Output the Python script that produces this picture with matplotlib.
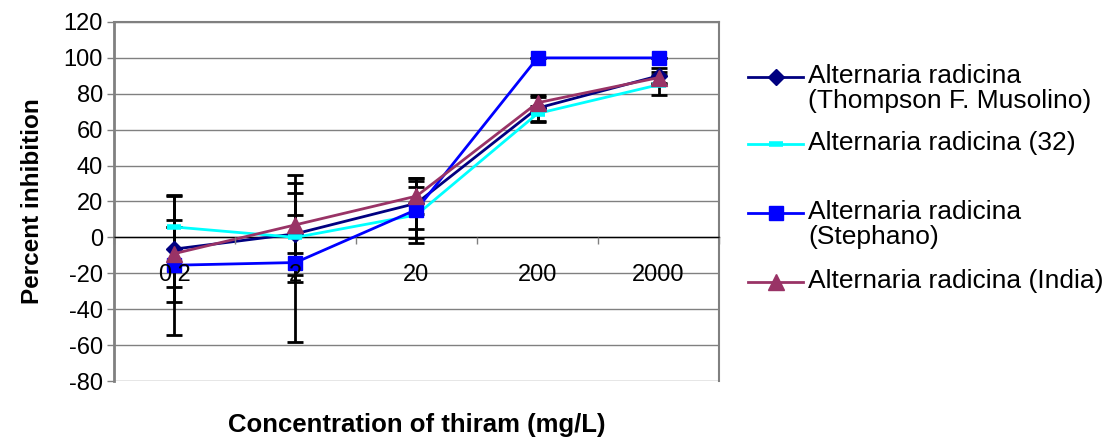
import matplotlib
matplotlib.use("Agg")
import matplotlib.pyplot as plt
from matplotlib.lines import Line2D
import numpy as np

plt.rcParams['font.family'] = ['Liberation Sans', 'DejaVu Sans']
plt.rcParams['axes.unicode_minus'] = False

# concentracoes de thiram (mg/L)
concentracoes = ['0.2', '2', '20', '200', '2000']

# inibicao percentual e desvio de cada isolado
musolino = [-6.5, 2, 19, 72, 90]
erro_musolino = [29.5, 10.5, 14.3, 7.5, 4.5]
isolado_32 = [5.8, 0, 12.5, 69, 85]
erro_32 = [0, 25, 15.5, 4, 5.5]
stephano = [-15.5, -14, 15.5, 100, 100]
erro_stephano = [39, 44.5, 16, 0, 0]
india = [-9, 7, 23, 75, 89]
erro_india = [18.5, 28, 10, 3, 3]

series = [
    ('Alternaria radicina\n(Thompson F. Musolino)', musolino, erro_musolino, '#000080', 'D', 8),
    ('Alternaria radicina (32)', isolado_32, erro_32, '#00FFFF', '_', 10),
    ('Alternaria radicina\n(Stephano)', stephano, erro_stephano, '#0000FF', 's', 10.5),
    ('Alternaria radicina (India)', india, erro_india, '#993366', '^', 12),
]

fig = plt.figure(figsize=(11.12, 4.45), dpi=100)
ax = fig.add_axes([0.1025, 0.1438, 0.5441, 0.8068])

x = np.arange(len(concentracoes))

# barras de erro primeiro, linhas por cima
for nome, valores, erros, cor, marcador, tam in series:
    ax.errorbar(x, valores, yerr=erros, fmt='none', ecolor='black',
                elinewidth=2, capsize=6, capthick=2, zorder=2)

for nome, valores, erros, cor, marcador, tam in series:
    mew = 4 if marcador == '_' else 1
    ax.plot(x, valores, color=cor, linewidth=2, marker=marcador,
            markersize=tam, markeredgewidth=mew, markerfacecolor=cor,
            markeredgecolor=cor, zorder=3)

ax.set_xlim(-0.5, len(concentracoes) - 0.5)
ax.set_ylim(-80, 120)
ax.set_yticks(np.arange(-80, 121, 20))
ax.yaxis.grid(True, color='#808080', linewidth=1)
ax.set_axisbelow(True)
ax.tick_params(axis='y', labelsize=17, length=5, width=1, color='#808080', pad=3)

# eixo x cruzando no zero, marcas entre as categorias
ax.spines['bottom'].set_position(('data', 0))
ax.spines['bottom'].set_color('black')
ax.spines['bottom'].set_linewidth(1)
ax.set_xticks(x)
ax.set_xticklabels(concentracoes)
ax.set_xticks(np.arange(-0.5, len(concentracoes)), minor=True)
ax.tick_params(axis='x', which='major', length=0, labelsize=17, pad=19)
ax.tick_params(axis='x', which='minor', length=5, width=1, color='#808080')
ax.xaxis.set_zorder(4)                      # rotulos das categorias por cima das series
for lado in ['left', 'right', 'top']:
    ax.spines[lado].set_color('#808080')
    ax.spines[lado].set_linewidth(1.5)
ax.spines['left'].set_linewidth(2)

ax.set_ylabel('Percent inhibition', fontsize=17.5, fontweight='bold', labelpad=14)
fig.text(0.375, 0.045, 'Concentration of thiram (mg/L)', fontsize=18.5,
         fontweight='bold', ha='center', va='center')

# legenda desenhada a mao (simbolo alinhado com a primeira linha)
posicoes_y = [77, 144, 213, 282]
for (nome, valores, erros, cor, marcador, tam), py in zip(series, posicoes_y):
    yf = 1 - py / 445.0
    mew = 4 if marcador == '_' else 1
    fig.add_artist(Line2D([748 / 1112.0, 803 / 1112.0], [yf, yf], color=cor,
                          linewidth=2, transform=fig.transFigure))
    fig.add_artist(Line2D([775.5 / 1112.0], [yf], color=cor, marker=marcador,
                          markersize=tam, markeredgewidth=mew, markerfacecolor=cor,
                          markeredgecolor=cor, transform=fig.transFigure))
    fig.text(808 / 1112.0, yf + 13 / 445.0, nome, fontsize=19, ha='left', va='top',
             linespacing=1.05)

fig.savefig('out.png', dpi=100)
